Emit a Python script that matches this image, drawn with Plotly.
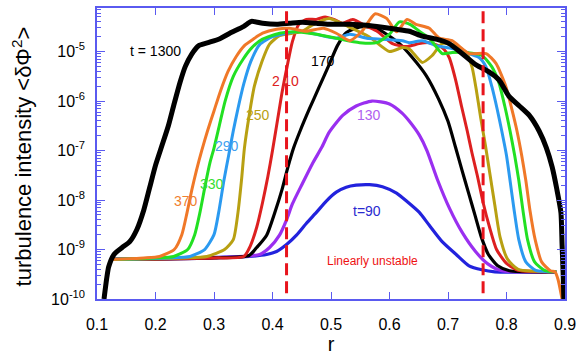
import plotly.graph_objects as go

# ---------------- data (r, log10 of turbulence intensity) ----------------
r_90 = [0.125, 0.20, 0.30, 0.36, 0.39, 0.407, 0.424, 0.441, 0.458, 0.475, 0.492, 0.509, 0.526,
        0.543, 0.566, 0.588, 0.612, 0.629, 0.651, 0.668, 0.690, 0.714, 0.736, 0.758, 0.78, 0.885]
lg_90 = [-9.2, -9.18, -9.16, -9.14, -9.10, -9.04, -8.90, -8.71, -8.47, -8.25, -8.02, -7.84, -7.74,
         -7.70, -7.69, -7.73, -7.86, -8.02, -8.25, -8.51, -8.84, -9.10, -9.33, -9.41, -9.45, -9.45]

r_130 = [0.125, 0.30, 0.378, 0.395, 0.412, 0.424, 0.434, 0.451, 0.468, 0.484, 0.497, 0.520, 0.543,
         0.570, 0.600, 0.622, 0.634, 0.651, 0.664, 0.682, 0.703, 0.724, 0.747, 0.768, 0.792, 0.885]
lg_130 = [-9.2, -9.17, -9.10, -8.96, -8.71, -8.40, -8.08, -7.67, -7.27, -6.94, -6.63, -6.29, -6.10,
          -6.0, -6.06, -6.25, -6.41, -6.69, -7.0, -7.59, -8.18, -8.65, -9.04, -9.29, -9.43, -9.45]

r_170 = [0.125, 0.30, 0.36, 0.373, 0.390, 0.404, 0.416, 0.426, 0.436, 0.448, 0.463, 0.480, 0.497,
         0.511, 0.526, 0.55, 0.575, 0.595, 0.617, 0.639, 0.663, 0.684, 0.700, 0.713, 0.724, 0.735,
         0.746, 0.757, 0.769, 0.785, 0.805, 0.885]
lg_170 = [-9.2, -9.17, -9.12, -8.96, -8.71, -8.25, -7.80, -7.35, -6.95, -6.58, -6.16, -5.71, -5.26,
          -4.88, -4.62, -4.50, -4.52, -4.65, -4.84, -5.12, -5.49, -5.96, -6.41, -6.94, -7.40, -7.85,
          -8.30, -8.75, -9.10, -9.33, -9.43, -9.45]

r_210 = [0.125, 0.30, 0.351, 0.362, 0.373, 0.383, 0.392, 0.400, 0.407, 0.416, 0.425, 0.434, 0.445,
         0.458, 0.475, 0.49, 0.505, 0.520, 0.537, 0.561, 0.58, 0.605, 0.629, 0.651, 0.668, 0.690,
         0.702, 0.713, 0.723, 0.733, 0.741, 0.750, 0.760, 0.771, 0.783, 0.800, 0.820, 0.885]
lg_210 = [-9.2, -9.17, -9.14, -8.93, -8.55, -8.05, -7.53, -7.0, -6.50, -5.85, -5.30, -4.80, -4.45,
          -4.35, -4.35, -4.30, -4.35, -4.43, -4.35, -4.49, -4.60, -4.84, -4.90, -4.84, -4.82, -4.92,
          -5.12, -5.57, -6.10, -6.61, -7.05, -7.50, -8.05, -8.55, -9.0, -9.28, -9.42, -9.45]

r_250 = [0.125, 0.25, 0.288, 0.318, 0.333, 0.341, 0.347, 0.352, 0.360, 0.369, 0.382, 0.395, 0.412,
         0.434, 0.451, 0.47, 0.497, 0.53, 0.565, 0.600, 0.622, 0.634, 0.656, 0.673, 0.690, 0.714,
         0.731, 0.741, 0.749, 0.756, 0.764, 0.772, 0.780, 0.789, 0.802, 0.820, 0.885]
lg_250 = [-9.2, -9.17, -9.14, -9.0, -8.80, -8.25, -7.60, -6.95, -6.30, -5.70, -5.20, -4.85, -4.68,
          -4.63, -4.59, -4.45, -4.33, -4.50, -4.70, -5.0, -4.92, -4.95, -5.22, -5.08, -4.84, -4.88,
          -5.02, -5.31, -5.82, -6.35, -6.90, -7.50, -8.10, -8.75, -9.20, -9.40, -9.45]

r_290 = [0.125, 0.22, 0.259, 0.284, 0.300, 0.308, 0.317, 0.325, 0.333, 0.341, 0.351, 0.363, 0.378,
         0.400, 0.424, 0.446, 0.475, 0.509, 0.532, 0.561, 0.588, 0.622, 0.634, 0.656, 0.680, 0.707,
         0.731, 0.753, 0.765, 0.775, 0.784, 0.792, 0.800, 0.806, 0.813, 0.821, 0.833, 0.850, 0.885]
lg_290 = [-9.2, -9.17, -9.14, -9.0, -8.70, -8.25, -7.60, -7.10, -6.60, -6.15, -5.65, -5.20, -4.86,
          -4.70, -4.63, -4.59, -4.65, -4.73, -4.65, -4.73, -4.75, -4.78, -4.82, -4.78, -4.88, -4.94,
          -5.02, -5.12, -5.31, -5.71, -6.16, -6.61, -7.10, -7.60, -8.20, -8.80, -9.25, -9.42, -9.45]

r_330 = [0.125, 0.20, 0.231, 0.255, 0.267, 0.276, 0.285, 0.293, 0.300, 0.309, 0.319, 0.333, 0.350,
         0.364, 0.383, 0.412, 0.44, 0.475, 0.509, 0.549, 0.578, 0.600, 0.617, 0.635, 0.651, 0.668,
         0.690, 0.707, 0.731, 0.758, 0.775, 0.787, 0.797, 0.806, 0.814, 0.821, 0.828, 0.836, 0.848,
         0.865, 0.885]
lg_330 = [-9.2, -9.17, -9.14, -9.0, -8.70, -8.25, -7.70, -7.25, -6.95, -6.50, -6.0, -5.50, -5.15,
          -4.93, -4.75, -4.63, -4.60, -4.65, -4.73, -4.82, -4.82, -4.65, -4.40, -4.45, -4.59, -4.73,
          -5.04, -5.02, -5.02, -5.08, -5.31, -5.63, -6.10, -6.60, -7.10, -7.60, -8.20, -8.80, -9.25,
          -9.42, -9.45]

r_370 = [0.125, 0.18, 0.207, 0.232, 0.245, 0.254, 0.262, 0.270, 0.279, 0.289, 0.300, 0.311, 0.324,
         0.338, 0.352, 0.367, 0.383, 0.407, 0.429, 0.458, 0.487, 0.509, 0.532, 0.553, 0.575, 0.595,
         0.612, 0.630, 0.645, 0.668, 0.685, 0.707, 0.736, 0.765, 0.782, 0.799, 0.809, 0.818, 0.826,
         0.833, 0.840, 0.849, 0.860, 0.875, 0.883, 0.888, 0.895]
lg_370 = [-9.2, -9.17, -9.14, -9.0, -8.70, -8.25, -7.80, -7.40, -7.0, -6.60, -6.20, -5.80, -5.40,
          -5.10, -4.88, -4.75, -4.63, -4.55, -4.53, -4.59, -4.53, -4.63, -4.78, -4.59, -4.24, -4.33,
          -4.60, -4.35, -4.45, -4.53, -4.73, -4.78, -5.04, -5.04, -5.24, -5.71, -6.16, -6.61, -7.10,
          -7.60, -8.20, -8.80, -9.25, -9.43, -9.45, -9.60, -10.0]

r_1300 = [0.112, 0.117, 0.120, 0.129, 0.143, 0.156, 0.168, 0.180, 0.190, 0.200, 0.211, 0.222, 0.232,
          0.242, 0.251, 0.262, 0.274, 0.290, 0.310, 0.327, 0.351, 0.364, 0.383, 0.407, 0.429, 0.451,
          0.475, 0.503, 0.532, 0.561, 0.588, 0.612, 0.634, 0.656, 0.680, 0.702, 0.724, 0.748, 0.770,
          0.787, 0.804, 0.822, 0.839, 0.856, 0.868, 0.878, 0.886, 0.893, 0.895, 0.897, 0.898]
lg_1300 = [-10.0, -9.55, -9.35, -9.10, -8.96, -8.84, -8.60, -8.20, -7.75, -7.30, -6.90, -6.50, -6.05,
           -5.62, -5.30, -5.05, -4.88, -4.82, -4.74, -4.63, -4.49, -4.39, -4.43, -4.45, -4.43, -4.41,
           -4.43, -4.45, -4.45, -4.47, -4.51, -4.55, -4.59, -4.69, -4.75, -4.84, -5.04, -5.27, -5.41,
           -5.57, -5.90, -6.10, -6.29, -6.61, -6.94, -7.33, -7.78, -8.25, -8.90, -9.55, -10.0]

unstable_bounds = [0.424, 0.760]

x_ticks = [0.1, 0.2, 0.3, 0.4, 0.5, 0.6, 0.7, 0.8, 0.9]
y_tick_exps = [-10, -9, -8, -7, -6, -5]

y_title = "turbulence intensity &lt;δΦ<sup>2</sup>&gt;"
x_title = "r"

# ---------------- styling ----------------
AX = "#5a5af0"
FONT = "Arial, Liberation Sans, sans-serif"

series = [
    ("90", r_90, lg_90, "#2222dd", 3.2),
    ("130", r_130, lg_130, "#9a2ff0", 3.2),
    ("170", r_170, lg_170, "#000000", 3.2),
    ("210", r_210, lg_210, "#dd2020", 3),
    ("250", r_250, lg_250, "#b8a012", 3),
    ("290", r_290, lg_290, "#2b9af0", 3),
    ("330", r_330, lg_330, "#22e022", 3),
    ("370", r_370, lg_370, "#f07828", 3),
    ("1300", r_1300, lg_1300, "#000000", 5),
]

fig = go.Figure()
for name, rr, lg, col, w in series:
    fig.add_trace(go.Scatter(
        x=rr, y=[10 ** v for v in lg], mode="lines", name="t=" + name,
        line=dict(color=col, width=w, shape="spline", smoothing=0.6),
        showlegend=False, hoverinfo="skip"))

for b in unstable_bounds:
    fig.add_shape(type="line", xref="x", yref="paper", x0=b, x1=b, y0=0.02, y1=1.0,
                  line=dict(color="#e8141c", width=3, dash="12px,6px"))

# curve labels: (text, r, log10 y, color, size)
labels = [
    ("t = 1300", 0.2006, -4.98, "#000000", 14),
    ("170", 0.4855, -5.20, "#000000", 14),
    ("2\u200a\u200a\u200a10", 0.4224, -5.59, "#dd2020", 14),
    ("250", 0.3746, -6.29, "#b8a012", 14),
    ("290", 0.3217, -6.90, "#3fa0f0", 14),
    ("330", 0.2962, -7.67, "#33dd33", 14),
    ("370", 0.2518, -8.02, "#f08030", 14),
    ("130", 0.5657, -6.29, "#b060f0", 14),
    ("t=90", 0.5623, -8.22, "#2a2ad0", 14),
    ("Linearly unstable", 0.5708, -9.235, "#ee1111", 12),
]
for txt, xx, yy, col, sz in labels:
    fig.add_annotation(x=xx, y=yy, xref="x", yref="y", text=txt, showarrow=False,
                       font=dict(family=FONT, size=sz, color=col))

# y-axis title placed as a rotated annotation for exact positioning
fig.add_annotation(x=-0.1603, y=0.49, xref="paper", yref="paper", text=y_title,
                   textangle=-90, showarrow=False, xanchor="center", yanchor="middle",
                   font=dict(family=FONT, size=22, color="black"))

fig.update_layout(
    width=582, height=357,
    margin=dict(l=97, r=17, t=6, b=51),
    plot_bgcolor="white", paper_bgcolor="white",
    font=dict(family=FONT, color="black"),
    xaxis=dict(
        range=[0.1, 0.9], tickvals=x_ticks, ticktext=[f"{v:.1f}" for v in x_ticks],
        ticks="inside", ticklen=7, tickwidth=1, tickcolor=AX,
        showline=True, linecolor=AX, linewidth=1.5, mirror="ticks",
        showgrid=False, zeroline=False, tickfont=dict(size=16, color="black"),
        ticklabelstandoff=10,
        title=dict(text=x_title, font=dict(size=20, color="black"), standoff=4),
    ),
    yaxis=dict(
        type="log", range=[-10, -4.12],
        tickvals=[10 ** e for e in y_tick_exps],
        ticktext=[f"10<sup>{e}</sup>" for e in y_tick_exps],
        ticks="inside", ticklen=8, tickwidth=1, tickcolor=AX,
        minor=dict(ticks="inside", ticklen=4, tickwidth=1, tickcolor=AX, dtick="D1", showgrid=False),
        showline=True, linecolor=AX, linewidth=1.5, mirror="ticks",
        showgrid=False, zeroline=False, tickfont=dict(size=16, color="black"),
        ticklabelstandoff=7,
    ),
)

fig.write_html("out.html", config={"displayModeBar": False},
               post_script="document.body.style.margin='0px';")
